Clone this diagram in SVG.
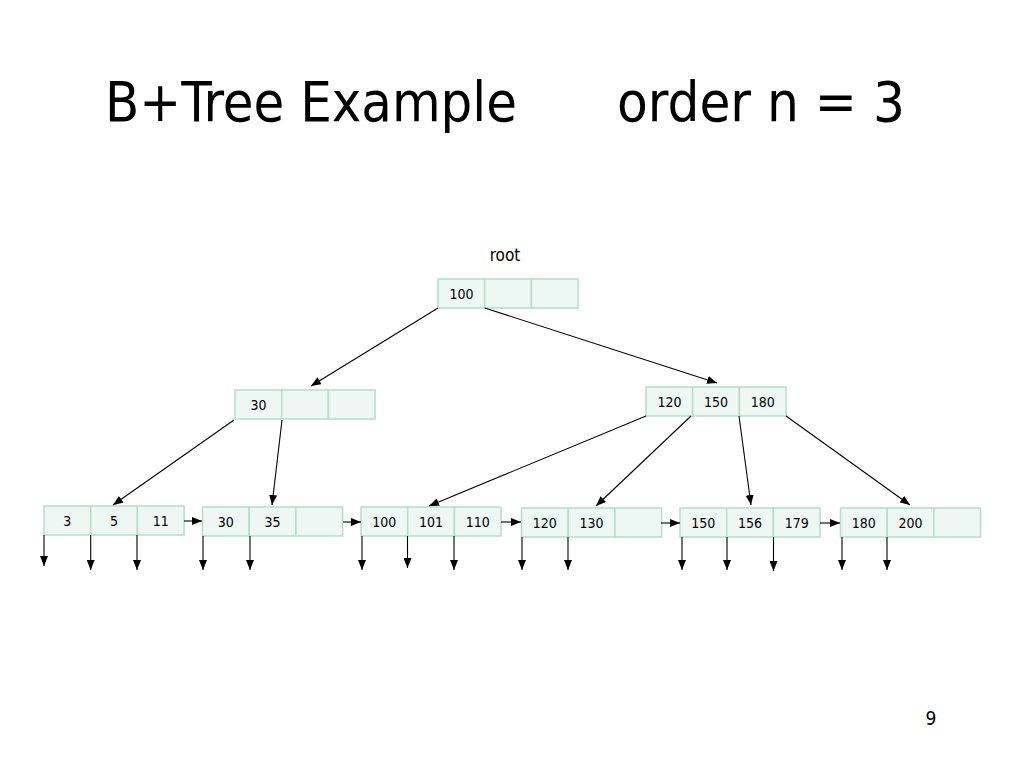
<svg xmlns="http://www.w3.org/2000/svg" width="1024" height="768" viewBox="0 0 1024 768">
<style>
.cell{fill:#eef7f3;stroke:#b2dfca;stroke-width:1.5}
.t{font-family:"DejaVu Sans Condensed","DejaVu Sans","Liberation Sans",sans-serif;fill:#000}
.k{font-size:14px;text-anchor:middle}
.ln{stroke:#000;stroke-width:1.1;fill:none;marker-end:url(#ah)}
</style>
<defs>
<marker id="ah" markerUnits="userSpaceOnUse" markerWidth="10" markerHeight="8" refX="10" refY="4" orient="auto">
<path d="M0,0 L10,4 L0,8 z" fill="#000"/>
</marker>
</defs>
<rect width="1024" height="768" fill="#fff"/>
<text class="t" x="105" y="121" font-size="56" textLength="412" lengthAdjust="spacingAndGlyphs">B+Tree Example</text>
<text class="t" x="617" y="121" font-size="56" textLength="288" lengthAdjust="spacingAndGlyphs">order n = 3</text>
<text class="t" x="505" y="261" font-size="17" text-anchor="middle">root</text>
<text class="t" x="931" y="725" font-size="19" text-anchor="middle">9</text>

<g id="root">
<rect class="cell" x="438" y="279" width="46.7" height="29"/>
<rect class="cell" x="484.7" y="279" width="46.7" height="29"/>
<rect class="cell" x="531.4" y="279" width="46.7" height="29"/>
<text class="t k" x="461.5" y="299">100</text>
</g>
<g id="inner-30">
<rect class="cell" x="235" y="390" width="46.7" height="29"/>
<rect class="cell" x="281.7" y="390" width="46.7" height="29"/>
<rect class="cell" x="328.4" y="390" width="46.7" height="29"/>
<text class="t k" x="258.5" y="410">30</text>
</g>
<g id="inner-120">
<rect class="cell" x="646" y="387" width="46.7" height="29"/>
<rect class="cell" x="692.7" y="387" width="46.7" height="29"/>
<rect class="cell" x="739.4" y="387" width="46.7" height="29"/>
<text class="t k" x="669.5" y="407">120</text>
<text class="t k" x="716" y="407">150</text>
<text class="t k" x="762.7" y="407">180</text>
</g>
<g id="leaf-3">
<rect class="cell" x="44" y="506" width="46.7" height="29"/>
<rect class="cell" x="90.7" y="506" width="46.7" height="29"/>
<rect class="cell" x="137.4" y="506" width="46.7" height="29"/>
<text class="t k" x="67.3" y="526">3</text>
<text class="t k" x="114" y="526">5</text>
<text class="t k" x="160.7" y="526">11</text>
</g>
<g id="leaf-30">
<rect class="cell" x="202.5" y="507" width="46.7" height="29"/>
<rect class="cell" x="249.2" y="507" width="46.7" height="29"/>
<rect class="cell" x="295.9" y="507" width="46.7" height="29"/>
<text class="t k" x="225.8" y="527">30</text>
<text class="t k" x="272.5" y="527">35</text>
</g>
<g id="leaf-100">
<rect class="cell" x="361" y="507" width="46.7" height="29"/>
<rect class="cell" x="407.7" y="507" width="46.7" height="29"/>
<rect class="cell" x="454.4" y="507" width="46.7" height="29"/>
<text class="t k" x="384.3" y="527">100</text>
<text class="t k" x="431" y="527">101</text>
<text class="t k" x="477.7" y="527">110</text>
</g>
<g id="leaf-120">
<rect class="cell" x="521.5" y="508" width="46.7" height="29"/>
<rect class="cell" x="568.2" y="508" width="46.7" height="29"/>
<rect class="cell" x="614.9" y="508" width="46.7" height="29"/>
<text class="t k" x="544.8" y="528">120</text>
<text class="t k" x="591.5" y="528">130</text>
</g>
<g id="leaf-150">
<rect class="cell" x="680" y="508" width="46.7" height="29"/>
<rect class="cell" x="726.7" y="508" width="46.7" height="29"/>
<rect class="cell" x="773.4" y="508" width="46.7" height="29"/>
<text class="t k" x="703.3" y="528">150</text>
<text class="t k" x="750" y="528">156</text>
<text class="t k" x="796.7" y="528">179</text>
</g>
<g id="leaf-180">
<rect class="cell" x="840.5" y="508" width="46.7" height="29"/>
<rect class="cell" x="887.2" y="508" width="46.7" height="29"/>
<rect class="cell" x="933.9" y="508" width="46.7" height="29"/>
<text class="t k" x="863.8" y="528">180</text>
<text class="t k" x="910.5" y="528">200</text>
</g>

<g id="connectors">
<line class="ln" x1="438" y1="308" x2="311" y2="386"/>
<line class="ln" x1="484.7" y1="308" x2="717" y2="383"/>
<line class="ln" x1="234" y1="420" x2="113" y2="505"/>
<line class="ln" x1="282" y1="420" x2="272" y2="505"/>
<line class="ln" x1="646" y1="416" x2="429" y2="506"/>
<line class="ln" x1="691" y1="416" x2="596" y2="506"/>
<line class="ln" x1="739" y1="416" x2="751" y2="505"/>
<line class="ln" x1="786" y1="416" x2="910" y2="505"/>
<line class="ln" x1="184" y1="521" x2="202" y2="521"/>
<line class="ln" x1="343" y1="522" x2="361" y2="522"/>
<line class="ln" x1="501" y1="522" x2="521" y2="522"/>
<line class="ln" x1="661" y1="523" x2="680" y2="523"/>
<line class="ln" x1="820" y1="523" x2="840" y2="523"/>
<line class="ln" x1="44" y1="535" x2="44" y2="566"/>
<line class="ln" x1="90.7" y1="535" x2="90.7" y2="570"/>
<line class="ln" x1="137" y1="535" x2="137" y2="570"/>
<line class="ln" x1="203" y1="536" x2="203" y2="570"/>
<line class="ln" x1="250" y1="536" x2="250" y2="570"/>
<line class="ln" x1="362" y1="536" x2="362" y2="570"/>
<line class="ln" x1="407.5" y1="536" x2="407.5" y2="568"/>
<line class="ln" x1="454" y1="536" x2="454" y2="570"/>
<line class="ln" x1="522" y1="537" x2="522" y2="570"/>
<line class="ln" x1="568" y1="537" x2="568" y2="570"/>
<line class="ln" x1="682" y1="537" x2="682" y2="570"/>
<line class="ln" x1="727" y1="537" x2="727" y2="570"/>
<line class="ln" x1="773.5" y1="537" x2="773.5" y2="571"/>
<line class="ln" x1="842" y1="537" x2="842" y2="570"/>
<line class="ln" x1="887" y1="537" x2="887" y2="570"/>
</g>
</svg>
